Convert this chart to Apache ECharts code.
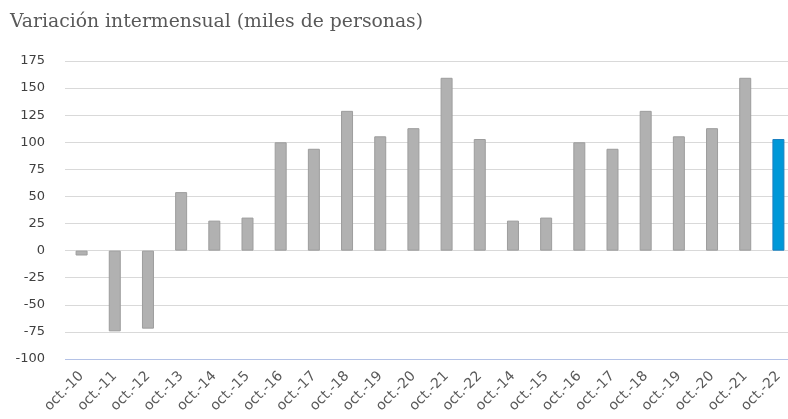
<!DOCTYPE html>
<html>
<head>
<meta charset="utf-8">
<script src="https://cdn.jsdelivr.net/npm/echarts@6/dist/echarts.min.js"></script>
<style>
html,body{margin:0;padding:0;background:#fff;}
#chart{width:788px;height:419px;}
</style>
</head>
<body>
<div id="chart"></div>
<script>
const titleText = "Variación intermensual (miles de personas)";
const categories = ["oct.-10","oct.-11","oct.-12","oct.-13","oct.-14","oct.-15","oct.-16","oct.-17","oct.-18","oct.-19","oct.-20","oct.-21","oct.-22","oct.-14","oct.-15","oct.-16","oct.-17","oct.-18","oct.-19","oct.-20","oct.-21","oct.-22"];
const values = [-4.5,-74.5,-72,54,27.7,30.5,100,94,129,105.5,113,159.5,103,27.7,30.5,100,94,129,105.5,113,159.5,103];
const highlightIndex = 21;
const yMin = -100, yMax = 175, yStep = 25;

const grayStyle = {color:'#b1b1b1', borderColor:'#9d9d9d', borderWidth:1};
const blueStyle = {color:'#0098d8', borderColor:'#1a7fc0', borderWidth:1};

const chart = echarts.init(document.getElementById('chart'), null, {renderer:'canvas'});
chart.setOption({
  animation:false,
  title:{
    text:titleText, left:5, top:8,
    textStyle:{fontFamily:'DejaVu Serif', fontSize:18.8, fontWeight:'normal', color:'#595959'}
  },
  grid:{left:65, width:730, top:61, bottom:60, containLabel:false, outerBoundsMode:'none'},
  xAxis:{
    type:'category', data:categories,
    axisLine:{show:false},
    axisTick:{show:false},
    axisLabel:{rotate:45, interval:0, margin:15, fontFamily:'DejaVu Sans', fontSize:14, color:'#595959'}
  },
  yAxis:{
    type:'value', min:yMin, max:yMax, interval:yStep,
    axisLine:{show:false}, axisTick:{show:false},
    axisLabel:{margin:20, fontFamily:'DejaVu Sans', fontSize:13, color:'#404040'},
    splitLine:{lineStyle:{color:'#d9d9d9', width:1}}
  },
  series:[{
    type:'bar', barWidth:12,
    data: values.map((v,i)=>({value:v, itemStyle: i===highlightIndex ? blueStyle : grayStyle}))
  },{
    type:'line', data:[], markLine:{
      silent:true, symbol:'none', label:{show:false},
      lineStyle:{color:'#b4c2e6', type:'solid', width:1},
      data:[{yAxis:yMin}]
    }
  }]
});
</script>
</body>
</html>
